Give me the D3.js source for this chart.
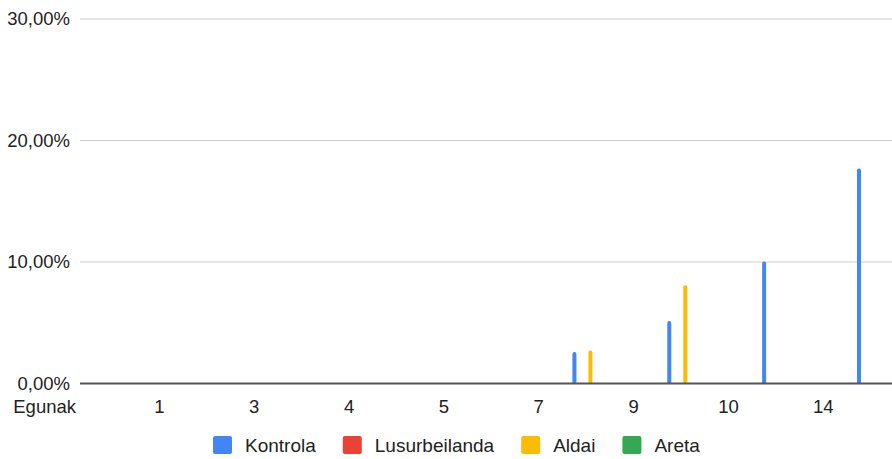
<!DOCTYPE html>
<html>
<head>
<meta charset="utf-8">
<script src="https://cdn.jsdelivr.net/npm/d3@7/dist/d3.min.js"></script>
<style>
  body { margin: 0; background: #fff; }
  text { font-family: "Liberation Sans", Arial, sans-serif; fill: #222; }
</style>
</head>
<body>
<div class="chart"></div>
<script>
// data
var days = ["1", "3", "4", "5", "7", "9", "10", "14"];
var seriesNames = ["Kontrola", "Lusurbeilanda", "Aldai", "Areta"];
var kontrola = [0, 0, 0, 0, 2.6, 5.15, 10.05, 17.7];
var lusurbeilanda = [0, 0, 0, 0, 0, 0, 0, 0];
var aldai = [0, 0, 0, 0, 2.72, 8.08, 0, 0];
var areta = [0, 0, 0, 0, 0, 0, 0, 0];
var yTicks = [0, 10, 20, 30];
var colors = ["#4285f4", "#ea4335", "#fbbc04", "#34a853"];

var width = 892, height = 459;
var allSeries = [kontrola, lusurbeilanda, aldai, areta];

var svg = d3.select(".chart").append("svg").attr("width", width).attr("height", height);

var x = d3.scaleBand().domain(days).range([111.9, 870.7]);
var x1 = d3.scaleBand().domain(seriesNames).range([0, 32]);
var y = d3.scaleLinear().domain([0, 30]).range([383.5, 19]);
var groupOffset = x.bandwidth() / 2 + 31.7; // bar groups sit right of the labels

var loc = d3.formatLocale({decimal: ",", thousands: ".", grouping: [3], currency: ["", "€"]});
var fmt = loc.format(".2f");

// gridlines
svg.selectAll(".grid").data(yTicks.filter(function(t){ return t > 0; })).enter()
  .append("line").attr("class", "grid")
  .attr("x1", 80).attr("x2", width)
  .attr("y1", function(d){ return y(d); }).attr("y2", function(d){ return y(d); })
  .style("stroke", "#cccccc").style("stroke-width", 1);

// y tick labels
svg.selectAll(".ylab").data(yTicks).enter()
  .append("text").attr("class", "ylab")
  .attr("x", 70).attr("y", function(d){ return y(d); })
  .attr("dy", "0.35em").attr("text-anchor", "end")
  .style("font-size", "18.5px")
  .text(function(d){ return fmt(d) + "%"; });

// bars
var barW = 4;
seriesNames.forEach(function(name, si){
  var vals = allSeries[si];
  svg.selectAll(".bar" + si).data(vals.map(function(v, i){ return {day: days[i], v: v}; })
    .filter(function(d){ return d.v > 0; })).enter()
    .append("path").attr("class", "bar" + si)
    .attr("d", function(d){
      var cx = x(d.day) + groupOffset + x1(name) + x1.bandwidth() / 2;
      var x0 = cx - barW / 2, top = y(d.v), base = y(0), r = barW / 2;
      return "M" + x0 + "," + base + "L" + x0 + "," + (top + r) +
        "A" + r + "," + r + " 0 0 1 " + (x0 + barW) + "," + (top + r) +
        "L" + (x0 + barW) + "," + base + "Z";
    })
    .style("fill", colors[si]);
});

// baseline
svg.append("line").attr("x1", 80).attr("x2", width)
  .attr("y1", y(0)).attr("y2", y(0))
  .style("stroke", "#555").style("stroke-width", 2);

// x labels
svg.selectAll(".xlab").data(days).enter()
  .append("text").attr("class", "xlab")
  .attr("x", function(d){ return x(d) + x.bandwidth() / 2; })
  .attr("y", 413).attr("text-anchor", "middle")
  .style("font-size", "18.5px")
  .text(function(d){ return d; });

svg.append("text").attr("x", 76).attr("y", 413).attr("text-anchor", "end")
  .style("font-size", "18.5px").text("Egunak");

// legend
var lx = 213;
seriesNames.forEach(function(name, i){
  svg.append("rect").attr("x", lx).attr("y", 436).attr("width", 19).attr("height", 18)
    .attr("rx", 2).style("fill", colors[i]);
  var t = svg.append("text").attr("x", lx + 32).attr("y", 451.5)
    .style("font-size", "19px").text(name);
  lx += 32 + t.node().getComputedTextLength() + 27;
});
</script>
</body>
</html>
